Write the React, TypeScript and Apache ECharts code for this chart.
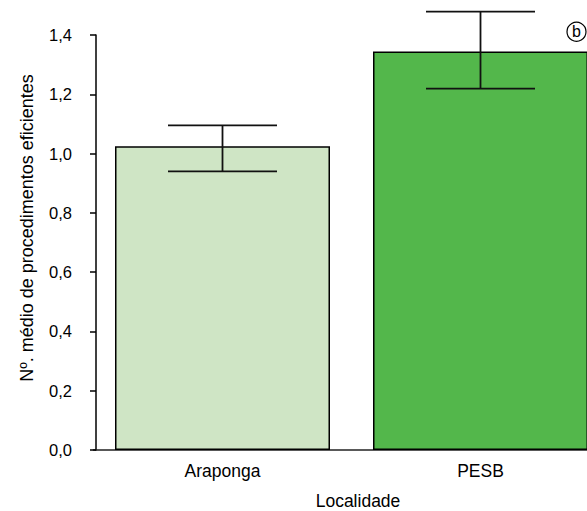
import React, { useEffect, useRef } from "react";
import * as echarts from "echarts";

const categories = ["Araponga", "PESB"];
const means = [1.025, 1.344];
const errLow = [0.94, 1.219];
const errHigh = [1.095, 1.479];
const barColors = ["#cfe5c5", "#53b74b"];
const yTicks = { min: 0, max: 1.4, interval: 0.2 };
const yTitle = "Nº. médio de procedimentos eficientes";
const xTitle = "Localidade";
const panelTag = "b";

const FONT = "'Liberation Sans', Arial, Helvetica, sans-serif";

export default function App() {
  const ref = useRef<HTMLDivElement>(null);
  useEffect(() => {
    if (!ref.current) return;
    const chart = echarts.init(ref.current, null, { renderer: "svg" });
    const errData = categories.map((c, i) => [i, errLow[i], errHigh[i]]);
    chart.setOption({
      animation: false,
      backgroundColor: "#ffffff",
      grid: { left: 93.5, width: 516, top: 35, bottom: 61, containLabel: false },
      xAxis: {
        type: "category",
        data: categories,
        boundaryGap: true,
        axisLine: { show: true, lineStyle: { color: "#222", width: 1.5 } },
        axisTick: { show: false },
        axisLabel: { color: "#000", fontSize: 17.5, fontFamily: FONT, margin: 12 },
        splitLine: { show: false },
      },
      yAxis: {
        type: "value",
        min: yTicks.min,
        max: yTicks.max,
        interval: yTicks.interval,
        offset: -2.5,
        axisLine: { show: true, lineStyle: { color: "#000", width: 1.5 } },
        axisTick: { show: true, inside: false, length: 6, lineStyle: { color: "#000", width: 1.5 } },
        axisLabel: {
          color: "#000",
          fontSize: 16.5,
          fontFamily: FONT,
          margin: 24,
          formatter: (v: number) => v.toFixed(1).replace(".", ","),
        },
        splitLine: { show: false },
      },
      series: [
        {
          type: "bar",
          data: means.map((m, i) => ({ value: m, itemStyle: { color: barColors[i] } })),
          barWidth: 215,
          itemStyle: { borderColor: "#000", borderWidth: 1.5 },
          z: 2,
        },
        {
          type: "custom",
          clip: false,
          z: 5,
          encode: { x: 0, y: [1, 2] },
          data: errData,
          renderItem: (params: any, api: any) => {
            const x = api.value(0);
            const lo = api.coord([x, api.value(1)]);
            const hi = api.coord([x, api.value(2)]);
            const hw = 54.5;
            const style = { stroke: "#111", lineWidth: 1.8 };
            return {
              type: "group",
              children: [
                { type: "line", shape: { x1: hi[0], y1: hi[1], x2: lo[0], y2: lo[1] }, style },
                { type: "line", shape: { x1: hi[0] - hw, y1: hi[1], x2: hi[0] + hw, y2: hi[1] }, style },
                { type: "line", shape: { x1: lo[0] - hw, y1: lo[1], x2: lo[0] + hw, y2: lo[1] }, style },
              ],
            };
          },
        },
      ],
      graphic: [
        {
          type: "text",
          x: 27,
          y: 228,
          rotation: Math.PI / 2,
          style: {
            text: yTitle,
            fill: "#000",
            fontSize: 18,
            fontFamily: FONT,
            align: "center",
            verticalAlign: "middle",
          },
        },
        {
          type: "text",
          x: 358,
          y: 501,
          style: {
            text: xTitle,
            fill: "#000",
            fontSize: 17.5,
            fontFamily: FONT,
            align: "center",
            verticalAlign: "middle",
          },
        },
        {
          type: "circle",
          shape: { cx: 576.5, cy: 31.7, r: 9.5 },
          style: { fill: "#fff", stroke: "#000", lineWidth: 1.2 },
          z: 10,
        },
        {
          type: "text",
          x: 576.5,
          y: 31.5,
          z: 11,
          style: {
            text: panelTag,
            fill: "#000",
            fontSize: 16,
            fontFamily: FONT,
            align: "center",
            verticalAlign: "middle",
          },
        },
      ],
    });
    return () => chart.dispose();
  }, []);
  return (
    <div
      style={{
        position: "absolute",
        left: 0,
        top: 0,
        width: 587,
        height: 511,
        overflow: "hidden",
        background: "#fff",
      }}
    >
      <div ref={ref} style={{ width: 640, height: 511 }} />
    </div>
  );
}
